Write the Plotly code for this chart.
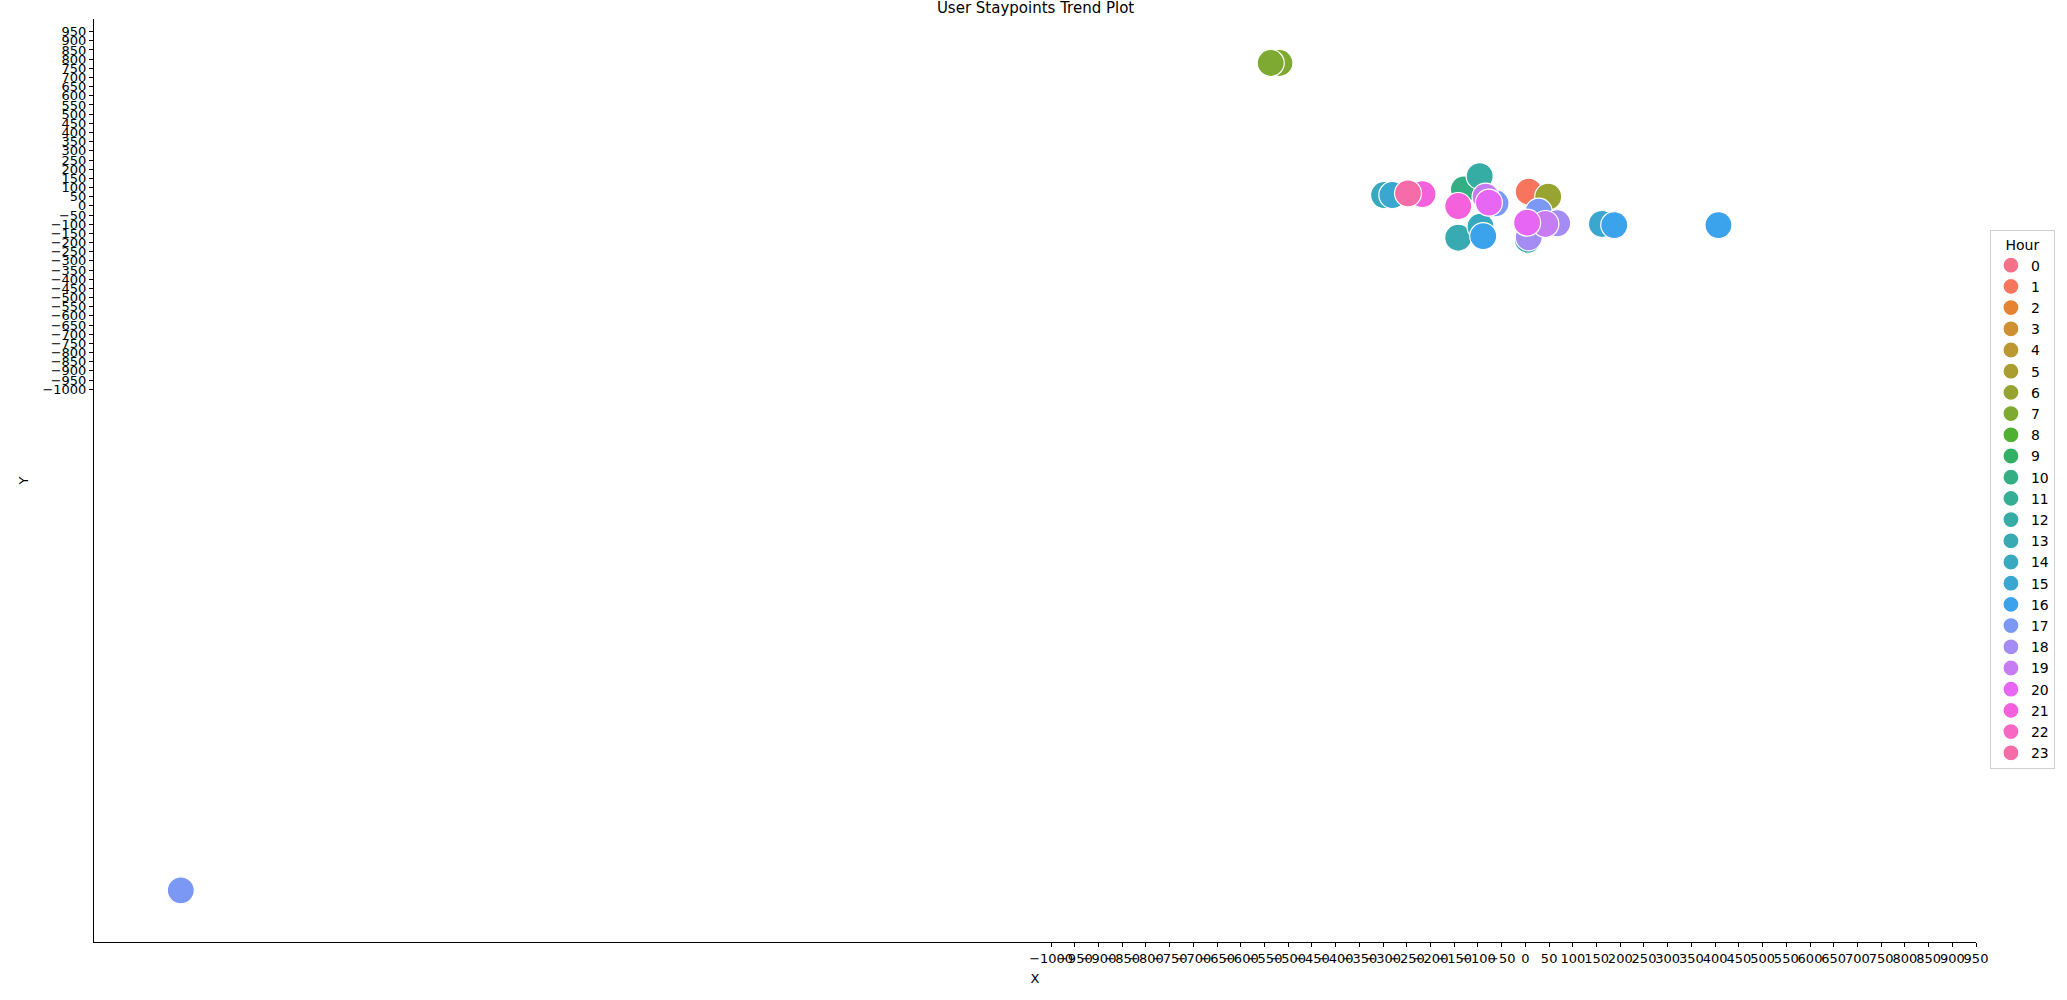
import math
import numpy as np
import plotly.graph_objects as go

# ---------------- data ----------------
hours = list(range(24))
point_hour = [1, 6, 7, 7, 10, 12, 13, 13, 14, 14, 15, 15, 16, 16, 16,
              17, 17, 17, 18, 18, 19, 19, 20, 20, 21, 21, 23]
point_x = [7, 48, -518.6, -537, -129.7, -96.4, -141.7, 5, -298, -94.7, -280.6, 161.3, -89, 187.3, 407,
           -63, 28, -2835, 67, 7, -84, 42, -77, 3.6, -141.7, -217, -247.5]
point_y = [77, 50, 779, 779, 90, 162, -174, -185, 59, -114, 59, -99, -165, -105, -105,
           14, -32, -3733, -95, -172, 50, -99, 17, -92, -1, 64, 68]
tick_values = list(range(-1000, 1000, 50))
tick_labels = [str(v).replace("-", "\u2212") for v in tick_values]

# ---------------- husl palette (as seaborn) ----------------
_m = [[3.2406, -1.5372, -0.4986], [-0.9689, 1.8758, 0.0415], [0.0557, -0.2040, 1.0570]]
_refU, _refV = 0.19784, 0.46834


def _max_chroma(L, H):
    hrad = math.radians(H)
    sinH, cosH = math.sin(hrad), math.cos(hrad)
    sub1 = (L + 16) ** 3 / 1560896.0
    sub2 = sub1 if sub1 > 0.008856 else L / 903.3
    result = float("inf")
    for m1, m2, m3 in _m:
        top = (0.99915 * m1 + 1.05122 * m2 + 1.14460 * m3) * sub2
        rbottom = 0.86330 * m3 - 0.17266 * m2
        lbottom = 0.12949 * m3 - 0.38848 * m1
        bottom = (rbottom * sinH + lbottom * cosH) * sub2
        for t in (0.0, 1.0):
            C = L * (top - 1.05122 * t) / (bottom + 0.17266 * sinH * t)
            if 0.0 < C < result:
                result = C
    return result


def _husl_to_rgb(H, S, L):
    C = _max_chroma(L, H) / 100.0 * S
    hr = math.radians(H)
    U, V = math.cos(hr) * C, math.sin(hr) * C
    t = (L + 16) / 116.0
    Y = t ** 3 if t ** 3 > 0.008856 else (116 * t - 16) / 903.3
    vU = U / (13.0 * L) + _refU
    vV = V / (13.0 * L) + _refV
    X = 0.0 - (9.0 * Y * vU) / ((vU - 4.0) * vV - vU * vV)
    Z = (9.0 * Y - (15.0 * vV * Y) - (vV * X)) / (3.0 * vV)
    out = []
    for row in _m:
        c = row[0] * X + row[1] * Y + row[2] * Z
        c = 12.92 * c if c <= 0.0031308 else 1.055 * c ** (1 / 2.4) - 0.055
        out.append(min(max(c, 0), 1))
    return "rgb(%d,%d,%d)" % tuple(round(v * 255) for v in out)


hues = (np.linspace(0, 1, 25)[:-1] + 0.01) % 1 * 359
palette = [_husl_to_rgb(h, 0.9 * 99, 0.65 * 99) for h in hues]

# ---------------- figure ----------------
fig = go.Figure()
for h in hours:
    xs = [x for x, ph in zip(point_x, point_hour) if ph == h]
    ys = [y for y, ph in zip(point_y, point_hour) if ph == h]
    if not xs:  # hour category with no visible staypoint: keep it in the legend
        xs, ys = [None], [None]
    fig.add_trace(go.Scatter(
        x=xs, y=ys, mode="markers", name=str(h),
        marker=dict(size=27, color=palette[h], line=dict(color="white", width=1.2)),
        showlegend=True,
    ))

axis_common = dict(
    tickmode="array", tickvals=tick_values, ticktext=tick_labels,
    showgrid=False, zeroline=False, showline=True, linecolor="black", linewidth=1,
    ticks="outside", ticklen=4, tickwidth=1, tickcolor="black",
    tickfont=dict(family="DejaVu Sans", size=13, color="black"),
    mirror=False, tickangle=0,
)

fig.update_layout(
    width=2067, height=1000,
    paper_bgcolor="white", plot_bgcolor="white",
    margin=dict(l=94, r=88, t=19, b=58),
    font=dict(family="DejaVu Sans", color="black"),
    title=dict(text="User Staypoints Trend Plot", x=0.501, xanchor="center",
               y=0.987, yanchor="bottom", yref="container",
               font=dict(family="DejaVu Sans", size=15, color="black")),
    xaxis=dict(range=[-3018, 950], title=dict(text="X", standoff=9,
               font=dict(family="DejaVu Sans", size=13, color="black")), **axis_common),
    yaxis=dict(range=[-4015, 1019], title=dict(text="Y", standoff=10,
               font=dict(family="DejaVu Sans", size=13, color="black")), **axis_common),
    legend=dict(
        title=dict(text="Hour", side="top center", font=dict(family="DejaVu Sans", size=14)),
        x=1.0074, xanchor="left", y=0.479, yanchor="middle",
        bordercolor="#d0d0d0", borderwidth=1, bgcolor="white",
        font=dict(family="DejaVu Sans", size=14, color="black"),
        itemsizing="trace", tracegroupgap=0,
    ),
    showlegend=True,
)

fig.write_html("out.html")
